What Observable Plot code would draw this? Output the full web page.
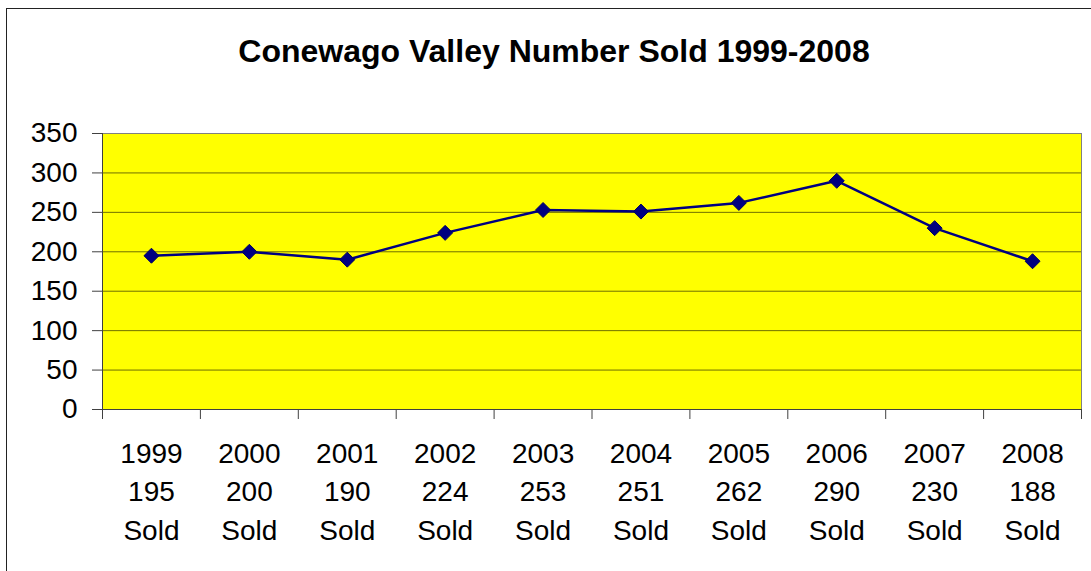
<!DOCTYPE html>
<html>
<head>
<meta charset="utf-8">
<script src="https://cdn.jsdelivr.net/npm/d3@7"></script>
<script src="https://cdn.jsdelivr.net/npm/@observablehq/plot@0.6"></script>
<style>
  html, body { margin: 0; padding: 0; background: #fff; overflow: hidden; width: 1091px; height: 571px; }
  #frame { position: absolute; left: 6px; top: 8px; width: 1100px; height: 600px; border: 1px solid #222; box-sizing: border-box; }
  #title { position: absolute; left: 6px; width: 1096px; top: 35px; text-align: center; font: bold 32px/32px "Liberation Sans", Arial, sans-serif; color: #000; }
  #chart { position: absolute; left: 0; top: 100px; }
</style>
</head>
<body>
<div id="frame"></div>
<div id="title">Conewago Valley Number Sold 1999-2008</div>
<div id="chart"></div>
<script>
const years = ["1999", "2000", "2001", "2002", "2003", "2004", "2005", "2006", "2007", "2008"];
const sold = [195, 200, 190, 224, 253, 251, 262, 290, 230, 188];
const soldWord = "Sold";
const yTicks = [0, 50, 100, 150, 200, 250, 300, 350];
const gridValues = [50, 100, 150, 200, 250, 300];

const data = years.map((y, i) => ({year: y, idx: i + 0.5, value: sold[i]}));
const labelPositions = years.map((y, i) => i + 0.5);
const boundaries = d3.range(years.length + 1);

const diamond = {
  draw(context, size) {
    const h = Math.sqrt(size / Math.PI);
    context.moveTo(0, -h);
    context.lineTo(h, 0);
    context.lineTo(0, h);
    context.lineTo(-h, 0);
    context.closePath();
  }
};

const chart = Plot.plot({
  width: 1091,
  height: 471,
  marginLeft: 102,
  marginRight: 10,
  marginTop: 33,
  marginBottom: 162,
  style: {fontFamily: '"Liberation Sans", Arial, sans-serif', fontSize: "28px", color: "#000", background: "transparent"},
  x: {domain: [0, years.length], label: null},
  y: {domain: [0, 350], label: null},
  marks: [
    Plot.frame({fill: "#ffff00", stroke: null}),
    Plot.ruleY(gridValues, {stroke: "#6f6f00", strokeWidth: 1}),
    Plot.frame({stroke: "#808080"}),
    Plot.ruleX([0], {stroke: "#404040", strokeWidth: 1}),
    Plot.ruleY([0], {stroke: "#404040", strokeWidth: 1}),
    Plot.axisY(yTicks, {tickSize: 10, tickPadding: 15, stroke: "#404040", fill: "#000", fontSize: 28, label: null}),
    Plot.axisX(boundaries, {tickSize: 10, tickFormat: () => "", stroke: "#404040", label: null}),
    Plot.axisX(labelPositions, {tickSize: 0, tickPadding: 26, lineHeight: 1.375, fontSize: 28, fill: "#000", label: null,
      tickFormat: (v) => { const i = Math.floor(v); return `${years[i]}\n${sold[i]}\n${soldWord}`; }}),
    Plot.line(data, {x: "idx", y: "value", stroke: "#000080", strokeWidth: 2.5}),
    Plot.dot(data, {x: "idx", y: "value", symbol: diamond, r: 7.5, fill: "#000080", stroke: "#000060", strokeWidth: 1})
  ]
});
document.getElementById("chart").appendChild(chart);
</script>
</body>
</html>
